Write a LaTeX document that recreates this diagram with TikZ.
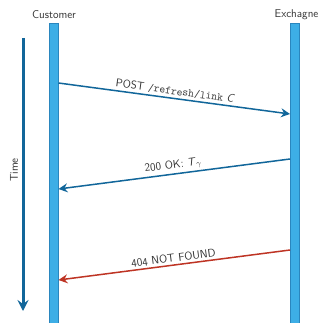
\documentclass[tikz,border=0pt]{standalone}
\usetikzlibrary{arrows.meta}
\definecolor{barfill}{HTML}{3DAEE6}
\definecolor{barline}{HTML}{2A86BE}
\definecolor{msgblue}{HTML}{11669A}
\definecolor{msgred}{HTML}{BE3424}
\definecolor{txt}{HTML}{333333}
\newcommand{\labelfont}{\sffamily\fontsize{11.3}{13}\selectfont}
\tikzset{
  lifeline/.style={draw=barline, fill=barfill, line width=1pt, minimum width=9pt, inner sep=0pt, anchor=north},
  actor/.style={font=\labelfont, text=txt, inner sep=0pt},
  msg/.style={line width=1.5pt, -{Stealth[length=9pt,width=9pt,inset=3pt]}},
  msglabel/.style={font=\labelfont, text=txt, sloped, above, inner sep=2pt},
}
\begin{document}
\begin{tikzpicture}[x=1pt, y=-1pt]
  \useasboundingbox (0,0) rectangle (321,323);
  % lifelines
  \node[lifeline, minimum height=305pt] (cust) at (53.5,23) {};
  \node[lifeline, minimum height=305pt] (exch) at (295,23) {};
  \node[actor] (custname) at (54,15) {Customer};
  \node[actor] (exchname) at (296.5,15) {Exchagne};
  % time axis
  \coordinate (t0) at (23,38);
  \coordinate (t1) at (23,311);
  \draw[msgblue, line width=3pt, -{Stealth[length=11pt,width=11pt,inset=4pt]}] (t0) -- (t1);
  \node[actor, rotate=90] (time) at (14,170) {Time};
  % message endpoints on the lifelines
  \coordinate (m1s) at (cust.east |- 0,83);
  \coordinate (m1e) at (exch.west |- 0,114);
  \coordinate (m2s) at (exch.west |- 0,159);
  \coordinate (m2e) at (cust.east |- 0,189);
  \coordinate (m3s) at (exch.west |- 0,250);
  \coordinate (m3e) at (cust.east |- 0,280);
  % messages
  \draw[msg, msgblue] (m1s) -- node[msglabel] {POST \texttt{/refresh/link} \textsl{C}} (m1e);
  \draw[msg, msgblue] (m2s) -- node[msglabel] {200 OK: \textsl{T}$_\gamma$} (m2e);
  \draw[msg, msgred] (m3s) -- node[msglabel] {404 NOT FOUND} (m3e);
\end{tikzpicture}
\end{document}
